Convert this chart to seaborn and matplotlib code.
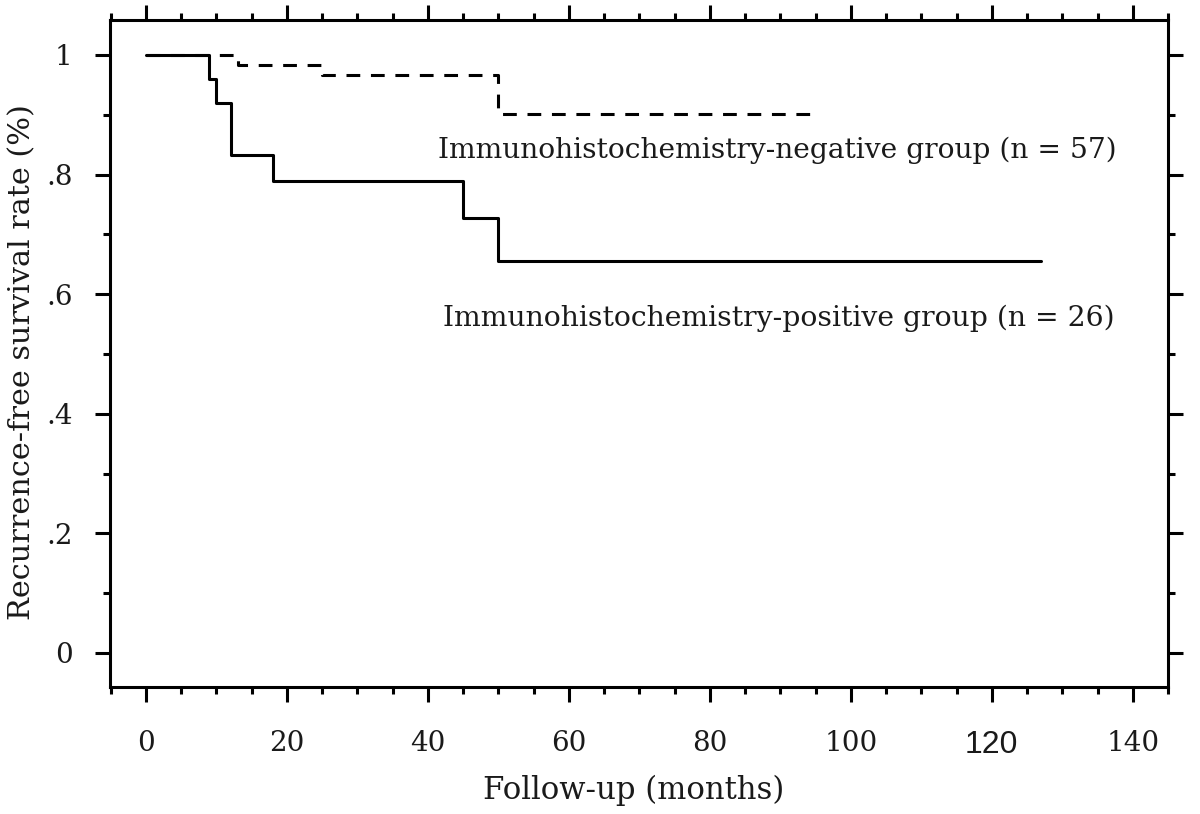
import matplotlib
matplotlib.use("Agg")
import matplotlib.pyplot as plt
import seaborn as sns
import numpy as np
from matplotlib.ticker import MultipleLocator

# Data
pos_time = [0, 9, 10, 12, 18, 45, 50, 127]
pos_surv = [1.0, 0.96, 0.92, 0.832, 0.79, 0.727, 0.656, 0.656]
neg_time = [0, 13, 25, 50, 95]
neg_surv = [1.0, 0.983, 0.966, 0.901, 0.901]

x_ticks = [0, 20, 40, 60, 80, 100, 120, 140]
y_ticks = [0, 0.2, 0.4, 0.6, 0.8, 1.0]
y_tick_labels = ["0", ".2", ".4", ".6", ".8", "1"]

neg_label = "Immunohistochemistry-negative group (n = 57)"
pos_label = "Immunohistochemistry-positive group (n = 26)"
x_label = "Follow-up (months)"
y_label = "Recurrence-free survival rate (%)"

sns.set_theme(style="ticks")
plt.rcParams['font.family'] = ['DejaVu Serif', 'Liberation Serif']

W, H = 1200, 814
fig = plt.figure(figsize=(W / 100, H / 100), dpi=100)
ax = fig.add_axes([110 / W, 1 - 687 / H, (1168 - 110) / W, (687 - 20) / H])

sns.lineplot(x=pos_time, y=pos_surv, ax=ax, drawstyle='steps-post',
             estimator=None, color='black', linewidth=2.2)
sns.lineplot(x=neg_time, y=neg_surv, ax=ax, drawstyle='steps-post',
             estimator=None, color='black', linewidth=2.2)
ax.lines[-1].set_dashes((4.5, 3.5))

ax.set_xlim(-5.1, 145.0)
ax.set_ylim(-0.057, 1.0585)

ax.set_xticks(x_ticks)
ax.set_xticklabels([str(v) for v in x_ticks])
ax.xaxis.set_minor_locator(MultipleLocator(5))
ax.set_yticks(y_ticks)
ax.set_yticklabels(y_tick_labels)
ax.yaxis.set_minor_locator(MultipleLocator(0.1))

for s in ax.spines.values():
    s.set_linewidth(2.2)
    s.set_color('black')

ax.tick_params(which='both', direction='out', top=True, right=True,
               labeltop=False, labelright=False, color='black',
               labelcolor='#1a1a1a')
ax.tick_params(which='major', length=11, width=2.2, labelsize=20, pad=16)
ax.tick_params(which='minor', length=5, width=2.2)
ax.tick_params(axis='x', which='major', pad=20)

for lab in ax.get_xticklabels():
    if lab.get_text() == "120":
        lab.set_family(['Liberation Sans', 'DejaVu Sans'])
        lab.set_fontsize(23)

ax.set_xlabel(x_label, fontsize=20, color='#1a1a1a')
ax.xaxis.set_label_coords((634 - 110) / (1168 - 110), (687 - 790) / (687 - 20))
ax.xaxis.label.set_va('center')
ax.set_ylabel(y_label, fontsize=20, color='#1a1a1a')
ax.yaxis.set_label_coords((22 - 110) / (1168 - 110), (687 - 362) / (687 - 20))
ax.yaxis.label.set_va('center')

t1 = fig.text(777 / W, 1 - 150 / H, neg_label, fontsize=20,
              ha='center', va='center', color='#1a1a1a')
t2 = fig.text(779 / W, 1 - 318 / H, pos_label, fontsize=20,
              ha='center', va='center', color='#1a1a1a')

# fit text widths to the reference layout
renderer = fig.canvas.get_renderer()
def fit(t, target, vertical=False):
    bb = t.get_window_extent(renderer)
    cur = bb.height if vertical else bb.width
    t.set_fontsize(t.get_fontsize() * target / cur)

fit(t1, 680)
fit(t2, 672)
fit(ax.xaxis.label, 301)
fit(ax.yaxis.label, 515, vertical=True)

fig.savefig("out.png", dpi=100)
